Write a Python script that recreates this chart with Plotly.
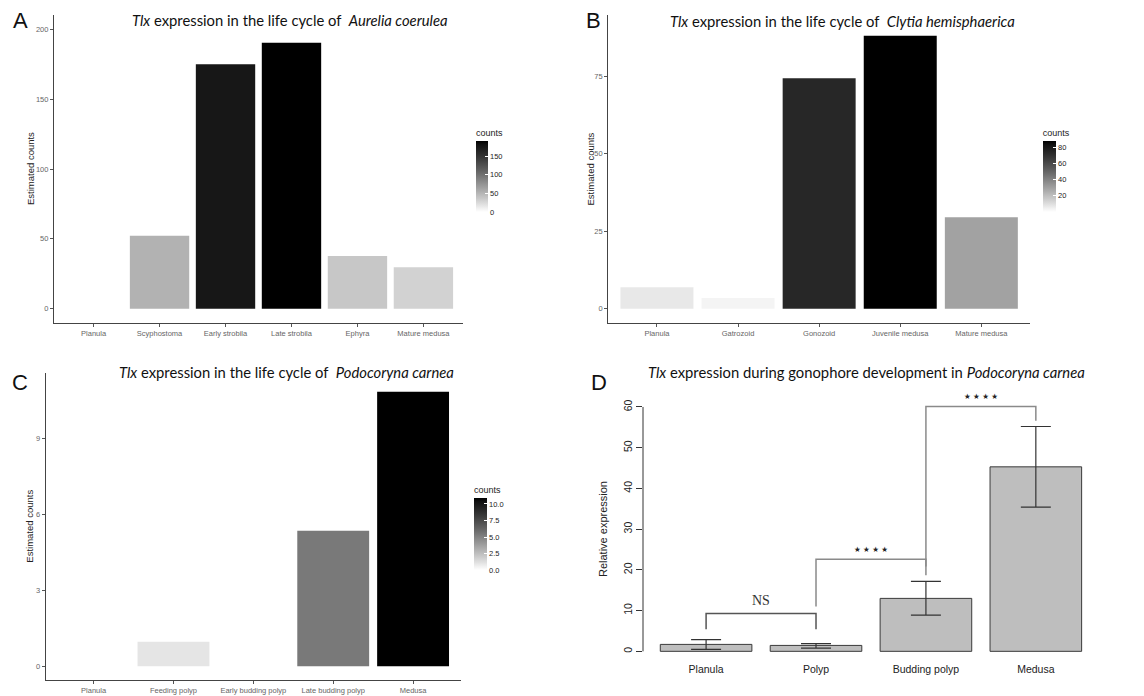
import plotly.graph_objects as go

W, H = 1144, 696

# ---------------- data ----------------
a_stages = ["Planula", "Scyphostoma", "Early strobila", "Late strobila", "Ephyra", "Mature medusa"]
a_counts = [0, 52.3, 175, 190.4, 37.7, 29.6]

b_stages = ["Planula", "Gatrozoid", "Gonozoid", "Juvenile medusa", "Mature medusa"]
b_counts = [6.9, 3.5, 74.3, 88, 29.5]

c_stages = ["Planula", "Feeding polyp", "Early budding polyp", "Late budding polyp", "Medusa"]
c_counts = [0, 0.97, 0, 5.36, 10.85]

d_stages = ["Planula", "Polyp", "Budding polyp", "Medusa"]
d_expr = [1.7, 1.45, 13.0, 45.3]
d_err_plus = [1.15, 0.42, 4.2, 9.9]
d_err_minus = [1.2, 0.65, 4.1, 9.9]

# significance brackets: (left stage, right stage, height, left leg end, right leg end, label)
brackets = [
    ("Planula", "Polyp", 9.3, 5.4, 5.4, "NS"),
    ("Polyp", "Budding polyp", 22.6, 11.0, 18.7, "★ ★ ★ ★"),
    ("Budding polyp", "Medusa", 60.1, 20.8, 56.6, "★ ★ ★ ★"),
]

a_cbar_ticks = [0, 50, 100, 150]
b_cbar_ticks = [20, 40, 60, 80]
c_cbar_ticks = [0, 2.5, 5, 7.5, 10]
d_yticks = [0, 10, 20, 30, 40, 50, 60]


# ---------------- helpers ----------------
def px_x(p):
    return p / W


def px_y(p):
    return 1 - p / H


def lab_gray(t):
    L = 100 * (1 - t)
    fy = (L + 16) / 116
    Y = fy ** 3 if fy ** 3 > 0.008856 else L / 903.3
    s = 1.055 * Y ** (1 / 2.4) - 0.055 if Y > 0.0031308 else 12.92 * Y
    v = max(0, min(255, round(255 * s)))
    return f"rgb({v},{v},{v})"


gray_scale = [[i / 20, lab_gray(i / 20)] for i in range(21)]

GG_TICK_FONT = dict(family="Liberation Sans, Arial", size=7.5, color="#666666")
AX_LINE = "#444444"

fig = go.Figure()

# ---------------- panels A, B, C (ggplot-like) ----------------
panels = [
    dict(stages=a_stages, vals=a_counts, xa="x", ya="y", ca="coloraxis",
         box=(54, 463, 15.3, 322.7), yr=[-10.0, 210], yt=[0, 50, 100, 150, 200]),
    dict(stages=b_stages, vals=b_counts, xa="x2", ya="y2", ca="coloraxis2",
         box=(608.3, 1030, 15, 322.7), yr=[-4.5, 94.7], yt=[0, 25, 50, 75]),
    dict(stages=c_stages, vals=c_counts, xa="x3", ya="y3", ca="coloraxis3",
         box=(45.7, 461, 373.3, 680), yr=[-0.54, 11.58], yt=[0, 3, 6, 9]),
]

layout_axes = {}
for i, p in enumerate(panels):
    fig.add_trace(go.Bar(
        x=p["stages"], y=p["vals"], width=0.9,
        marker=dict(color=p["vals"], coloraxis=p["ca"], line=dict(width=0)),
        xaxis=p["xa"], yaxis=p["ya"], showlegend=False,
    ))
    x0, x1, y0, y1 = p["box"]
    n = len(p["stages"])
    xname = "xaxis" if i == 0 else f"xaxis{i+1}"
    yname = "yaxis" if i == 0 else f"yaxis{i+1}"
    layout_axes[xname] = dict(
        domain=[px_x(x0), px_x(x1)], anchor=p["ya"], type="category",
        range=[-0.6, n - 0.4], showline=True, linecolor=AX_LINE, linewidth=1.2,
        ticks="outside", ticklen=3, tickcolor="#555555", tickfont=GG_TICK_FONT,
        showgrid=False, zeroline=False, fixedrange=True,
    )
    layout_axes[yname] = dict(
        domain=[px_y(y1), px_y(y0)], anchor=p["xa"], range=p["yr"],
        tickvals=p["yt"], showline=True, linecolor=AX_LINE, linewidth=1.2,
        ticks="outside", ticklen=3, tickcolor="#555555", tickfont=GG_TICK_FONT,
        showgrid=False, zeroline=False,
    )

CB_FONT = dict(family="Liberation Sans, Arial", size=7.5, color="#222222")
CB_TITLE = dict(text="counts", side="top", font=dict(family="Liberation Sans, Arial", size=9, color="#222222"))
CB_TITLE_H = 14


def cbar(xp, yp, length, thick, ticks, ttext=None):
    d = dict(
        x=px_x(xp), xanchor="left", xpad=0, y=px_y(yp - CB_TITLE_H), yanchor="top", ypad=0,
        len=length + CB_TITLE_H, lenmode="pixels", thickness=thick, outlinewidth=0,
        tickvals=ticks, ticks="inside", ticklen=3, tickcolor="white",
        tickfont=CB_FONT, title=CB_TITLE,
    )
    if ttext is not None:
        d["ticktext"] = ttext
    return d


coloraxes = dict(
    coloraxis=dict(colorscale=gray_scale, cmin=0, cmax=max(a_counts),
                   colorbar=cbar(476, 140, 72, 12, a_cbar_ticks)),
    coloraxis2=dict(colorscale=gray_scale, cmin=0, cmax=max(b_counts),
                    colorbar=cbar(1042.7, 140, 72, 13, b_cbar_ticks)),
    coloraxis3=dict(colorscale=gray_scale, cmin=0, cmax=max(c_counts),
                    colorbar=cbar(474, 497.3, 72.7, 13, c_cbar_ticks,
                                  [f"{v:.1f}" for v in c_cbar_ticks])),
)

# ---------------- panel D (base R barplot) ----------------
fig.add_trace(go.Bar(
    x=d_stages, y=d_expr, width=1 / 1.2,
    marker=dict(color="#bebebe", line=dict(color="#3a3a3a", width=1)),
    error_y=dict(type="data", array=d_err_plus, arrayminus=d_err_minus,
                 color="#333333", thickness=1.2, width=15),
    xaxis="x4", yaxis="y4", showlegend=False,
))

for left, right, h, l_end, r_end, lab in brackets:
    col = "#555555" if lab == "NS" else "#8a8a8a"
    fig.add_trace(go.Scatter(
        x=[left, left, right, right], y=[l_end, h, h, r_end], mode="lines",
        line=dict(color=col, width=1.5), xaxis="x4", yaxis="y4",
        showlegend=False, hoverinfo="skip",
    ))

D_FONT = dict(family="Liberation Sans, Arial", size=10.5, color="#222222")
layout_axes["xaxis4"] = dict(
    domain=[px_x(643), px_x(1098.6)], anchor="y4", type="category",
    range=[-0.574, 3.571], showline=False, ticks="", showgrid=False, zeroline=False,
    tickfont=D_FONT,
)
layout_axes["yaxis4"] = dict(
    domain=[px_y(661.1), px_y(397.2)], anchor="x4", range=[-2.4, 62.4],
    tickvals=d_yticks, tickangle=-90, ticks="outside", ticklen=6, tickcolor="#333333",
    showline=False, showgrid=False, zeroline=False, tickfont=D_FONT,
)

shapes = [dict(type="line", xref="paper", yref="y4", x0=px_x(643), x1=px_x(643),
               y0=d_yticks[0], y1=d_yticks[-1], line=dict(color="#333333", width=1))]

# ---------------- text annotations ----------------
ann = []
TITLE_FONT = dict(family="Lato, Open Sans, sans-serif", size=14.8, color="#111111")
LABEL_FONT = dict(family="Liberation Sans, Arial", size=22, color="#111111")
AXT_FONT = dict(family="Liberation Sans, Arial", size=9.5, color="#222222")


def txt(text, xp, yp, font, angle=0, xanchor="center"):
    ann.append(dict(text=text, x=px_x(xp), y=px_y(yp), xref="paper", yref="paper",
                    xanchor=xanchor, yanchor="middle", showarrow=False, font=font,
                    textangle=angle))


txt("<i>Tlx</i> expression in the life cycle of  <i>Aurelia coerulea</i>", 290, 20, TITLE_FONT)
txt("<i>Tlx</i> expression in the life cycle of  <i>Clytia hemisphaerica</i>", 842.5, 21, TITLE_FONT)
txt("<i>Tlx</i> expression in the life cycle of  <i>Podocoryna carnea</i>", 286.5, 372.3, TITLE_FONT)
txt("<i>Tlx</i> expression during gonophore development in <i>Podocoryna carnea</i>", 866.7, 372.3, TITLE_FONT)

txt("A", 20, 21, LABEL_FONT)
txt("B", 593, 21, LABEL_FONT)
txt("C", 20, 382, LABEL_FONT)
txt("D", 599, 382, LABEL_FONT)

txt("Estimated counts", 30, 169, AXT_FONT, angle=-90)
txt("Estimated counts", 589.5, 169, AXT_FONT, angle=-90)
txt("Estimated counts", 30, 526.7, AXT_FONT, angle=-90)
txt("Relative expression", 603, 529,
    dict(family="Liberation Sans, Arial", size=11, color="#222222"), angle=-90)

# bracket labels (placed in data coordinates of panel D)
for left, right, h, l_end, r_end, lab in brackets:
    i0, i1 = d_stages.index(left), d_stages.index(right)
    if lab == "NS":
        f = dict(family="Liberation Serif, DejaVu Serif, serif", size=14, color="#333333")
        yshift = 13
    else:
        f = dict(family="DejaVu Sans, sans-serif", size=7.5, color="#222222")
        yshift = 10
    ann.append(dict(text=lab, x=(i0 + i1) / 2, y=h, xref="x4", yref="y4",
                    showarrow=False, font=f, yshift=yshift, xanchor="center", yanchor="middle"))

fig.update_layout(
    width=W, height=H, margin=dict(l=0, r=0, t=0, b=0),
    paper_bgcolor="white", plot_bgcolor="white",
    annotations=ann, shapes=shapes, showlegend=False,
    **layout_axes, **coloraxes,
)

fig.write_html("out.html", config={"displayModeBar": False},
               post_script="document.body.style.margin='0px';document.body.style.overflow='hidden';")
